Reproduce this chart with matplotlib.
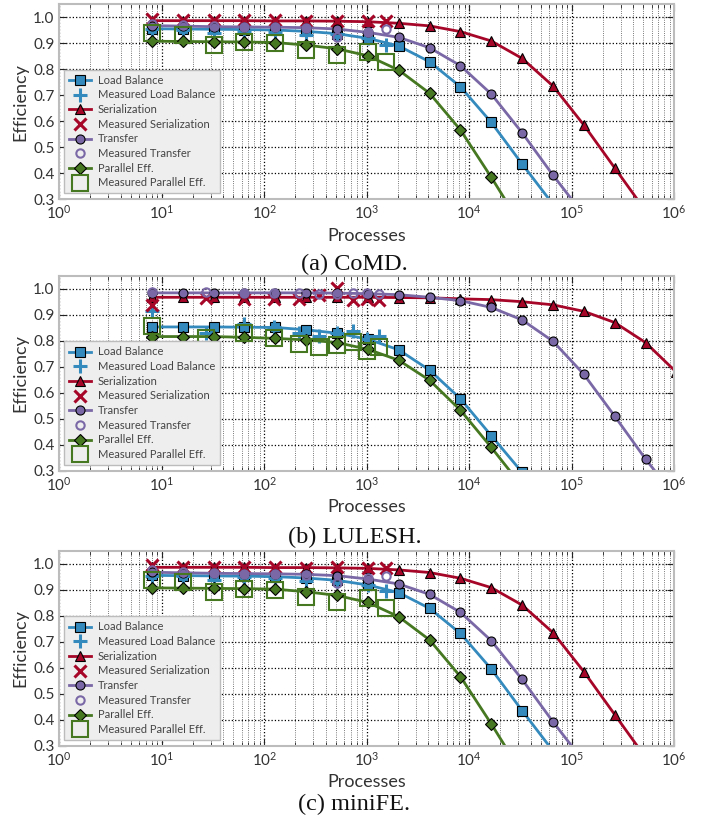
import numpy as np
import matplotlib
matplotlib.use("Agg")
import matplotlib.pyplot as plt
from matplotlib.ticker import FixedLocator, NullFormatter

nan = np.nan

# ---------------- data ----------------
x_model = [8, 16, 32, 64, 128, 256, 512, 1024, 2048, 4096, 8192, 16384,
           32768, 65536, 131072, 262144, 524288, 1048576]

# (a) CoMD
comd_lb = [0.956, 0.955, 0.954, 0.953, 0.951, 0.946, 0.937, 0.919, 0.890, 0.829,
           0.733, 0.596, 0.436, 0.281, nan, nan, nan, nan]
comd_ser = [0.987, 0.987, 0.987, 0.987, 0.986, 0.986, 0.985, 0.983, 0.977, 0.967,
            0.945, 0.909, 0.842, 0.736, 0.586, 0.421, 0.256, nan]
comd_tr = [0.968, 0.966, 0.964, 0.963, 0.962, 0.960, 0.955, 0.942, 0.923, 0.883,
           0.814, 0.705, 0.556, 0.393, 0.240, nan, nan, nan]
comd_pe = [0.908, 0.907, 0.906, 0.905, 0.903, 0.893, 0.879, 0.852, 0.797, 0.708,
           0.567, 0.385, 0.194, nan, nan, nan, nan, nan]
comd_x_meas = [8, 16, 32, 64, 128, 256, 512, 1024, 1536]
comd_mlb = [0.955, 0.952, 0.940, 0.948, 0.945, 0.933, 0.935, 0.920, 0.895]
comd_mser = [0.995, 0.990, 0.990, 0.990, 0.988, 0.986, 0.987, 0.985, 0.984]
comd_mtr = [0.975, 0.970, 0.967, 0.963, 0.962, 0.958, 0.925, 0.945, 0.955]
comd_mpe = [0.938, 0.932, 0.893, 0.904, 0.900, 0.874, 0.855, 0.868, 0.829]

# (b) LULESH
lul_lb = [0.854, 0.854, 0.854, 0.853, 0.852, 0.843, 0.830, 0.807, 0.766, 0.688,
          0.578, 0.436, 0.295, nan, nan, nan, nan, nan]
lul_ser = [0.968, 0.968, 0.968, 0.968, 0.968, 0.968, 0.968, 0.968, 0.967, 0.966,
           0.962, 0.959, 0.951, 0.939, 0.914, 0.871, 0.794, 0.680]
lul_tr = [0.985, 0.985, 0.985, 0.985, 0.985, 0.985, 0.984, 0.982, 0.978, 0.968,
          0.955, 0.929, 0.881, 0.799, 0.672, 0.511, 0.346, 0.196]
lul_pe = [0.817, 0.817, 0.817, 0.814, 0.810, 0.804, 0.794, 0.768, 0.726, 0.649,
          0.534, 0.391, 0.241, nan, nan, nan, nan, nan]
lul_x_meas = [8, 27, 64, 125, 216, 343, 512, 729, 1000, 1331]
lul_mlb = [0.914, 0.830, 0.865, 0.852, 0.830, 0.820, 0.830, 0.840, 0.808, 0.820]
lul_mser = [0.940, 0.965, 0.963, 0.963, 0.962, 0.975, 1.005, 0.958, 0.960, 0.957]
lul_mtr = [0.988, 0.988, 0.986, 0.986, 0.984, 0.982, 0.982, 0.985, 0.983, 0.982]
lul_mpe = [0.857, 0.810, 0.830, 0.810, 0.787, 0.775, 0.785, 0.795, 0.760, 0.775]

# (c) miniFE
mfe_lb = comd_lb
mfe_ser = comd_ser
mfe_tr = comd_tr
mfe_pe = comd_pe
mfe_x_meas = comd_x_meas
mfe_mlb = comd_mlb
mfe_mser = comd_mser
mfe_mtr = comd_mtr
mfe_mpe = comd_mpe

captions = ["(a) CoMD.", "(b) LULESH.", "(c) miniFE."]
yticks = [0.3, 0.4, 0.5, 0.6, 0.7, 0.8, 0.9, 1.0]
xticks = [1, 10, 100, 1000, 10000, 100000, 1000000]
xtick_labels = [r"$10^{0}$", r"$10^{1}$", r"$10^{2}$", r"$10^{3}$",
                r"$10^{4}$", r"$10^{5}$", r"$10^{6}$"]
minor_x = [m * d for d in [1, 10, 100, 1000, 10000, 100000] for m in range(2, 10)]

C_LB = "#348ABD"
C_SER = "#A60628"
C_TR = "#7A68A6"
C_PE = "#467821"

plt.rcParams["font.family"] = ["Lato", "DejaVu Sans"]
plt.rcParams["mathtext.fontset"] = "custom"
plt.rcParams["mathtext.rm"] = "Lato"
plt.rcParams["mathtext.it"] = "Lato:italic"

fig = plt.figure(figsize=(7.09, 8.25), dpi=100)

panels = [
    (0.7584, comd_lb, comd_ser, comd_tr, comd_pe, comd_x_meas, comd_mlb, comd_mser, comd_mtr, comd_mpe, 0.680),
    (0.4291, lul_lb, lul_ser, lul_tr, lul_pe, lul_x_meas, lul_mlb, lul_mser, lul_mtr, lul_mpe, 0.349),
    (0.0958, mfe_lb, mfe_ser, mfe_tr, mfe_pe, mfe_x_meas, mfe_mlb, mfe_mser, mfe_mtr, mfe_mpe, 0.0255),
]

for i, (bot, lb, ser, tr, pe, xm, mlb, mser, mtr, mpe, cy) in enumerate(panels):
    ax = fig.add_axes([0.0836, bot, 0.8674, 0.2364])
    lw = 2.0
    ax.plot(x_model, lb, color=C_LB, lw=lw, marker="s", ms=6.5, mfc=C_LB, mec="k", mew=0.8,
            label="Load Balance")
    ax.plot(xm, mlb, ls="none", marker="+", ms=10, mew=2.2, color=C_LB,
            label="Measured Load Balance")
    ax.plot(x_model, ser, color=C_SER, lw=lw, marker="^", ms=6.5, mfc=C_SER, mec="k", mew=0.8,
            label="Serialization")
    ax.plot(xm, mser, ls="none", marker="x", ms=9, mew=2.2, color=C_SER,
            label="Measured Serialization")
    ax.plot(x_model, tr, color=C_TR, lw=lw, marker="o", ms=6.5, mfc=C_TR, mec="k", mew=0.8,
            label="Transfer")
    ax.plot(xm, mtr, ls="none", marker="o", ms=6, mew=1.5, mfc="none", mec=C_TR,
            label="Measured Transfer")
    ax.plot(x_model, pe, color=C_PE, lw=lw, marker="D", ms=6, mfc=C_PE, mec="k", mew=0.8,
            label="Parallel Eff.")
    ax.plot(xm, mpe, ls="none", marker="s", ms=11, mew=1.5, mfc="none", mec=C_PE,
            label="Measured Parallel Eff.")

    ax.set_xscale("log")
    ax.set_xlim(1, 1e6)
    ax.set_ylim(0.3, 1.05)
    ax.set_yticks(yticks)
    ax.set_yticklabels([f"{v:.1f}" for v in yticks])
    ax.xaxis.set_major_locator(FixedLocator(xticks))
    ax.set_xticklabels(xtick_labels)
    ax.xaxis.set_minor_locator(FixedLocator(minor_x))
    ax.xaxis.set_minor_formatter(NullFormatter())

    ax.grid(True, which="major", color="k", ls=":", lw=0.9)
    ax.grid(True, which="minor", axis="x", color="k", ls=":", lw=0.6, alpha=0.7)
    ax.set_axisbelow(True)
    for s in ax.spines.values():
        s.set_color("#bcbcbc")
        s.set_linewidth(1.5)
    ax.tick_params(which="both", direction="in", top=True, right=True, colors="#222222",
                   labelsize=11, labelcolor="#333333")
    ax.tick_params(which="major", length=5, width=0.8)
    ax.tick_params(which="minor", length=3, width=0.6)
    ax.set_xlabel("Processes", fontsize=13, color="#333333", labelpad=4)
    ax.set_ylabel("Efficiency", fontsize=13, color="#333333", labelpad=3)

    leg = ax.legend(loc="lower left", bbox_to_anchor=(0.008, 0.03), borderaxespad=0,
                    fontsize=8, labelspacing=0.33, handlelength=2.0, borderpad=0.45,
                    handletextpad=0.6, frameon=True, fancybox=False, framealpha=1.0,
                    facecolor="#eeeeee", edgecolor="#bcbcbc")
    leg.get_frame().set_linewidth(1.0)
    for t in leg.get_texts():
        t.set_color("#444444")

    fig.text(0.5, cy, captions[i], ha="center", va="center", fontsize=17.5,
             family=["Liberation Serif", "DejaVu Serif"], color="#111111")

fig.savefig("out.png", dpi=100)
